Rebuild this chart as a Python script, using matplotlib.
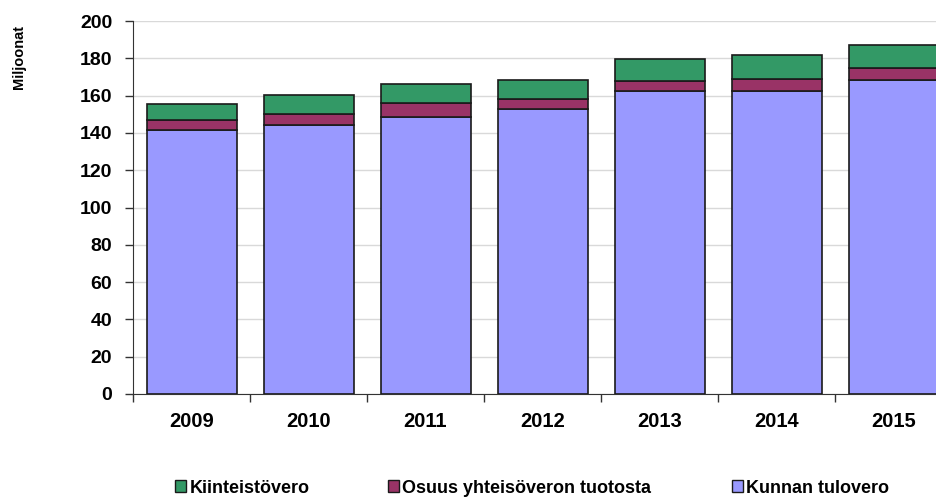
import matplotlib
matplotlib.use("Agg")
import matplotlib.pyplot as plt
from matplotlib.patches import Patch
import numpy as np

years = ["2009", "2010", "2011", "2012", "2013", "2014", "2015"]
kunnan_tulovero = [141.5, 144.5, 148.3, 152.8, 162.3, 162.6, 168.2]
osuus_yhteisovero = [5.5, 5.8, 7.5, 5.2, 5.5, 6.5, 6.8]
kiinteistovero = [8.5, 10.2, 10.2, 10.2, 11.6, 12.7, 12.1]

series_names = ["Kiinteistövero", "Osuus yhteisöveron tuotosta", "Kunnan tulovero"]
c_purple = "#9999FF"
c_maroon = "#993366"
c_green = "#339966"

plt.rcParams['font.family'] = ['Liberation Sans', 'DejaVu Sans']

fig = plt.figure(figsize=(9.36, 4.98), dpi=100)
W, H = 936, 498
ax = fig.add_axes([133 / W, 1 - 394 / H, 819 / W, 373 / H])

x = np.arange(len(years))
bw = 90 / 117
k = np.array(kunnan_tulovero)
o = np.array(osuus_yhteisovero)
g = np.array(kiinteistovero)
ax.bar(x, k, bw, color=c_purple, edgecolor="#1a1a1a", linewidth=1.2, zorder=3)
ax.bar(x, o, bw, bottom=k, color=c_maroon, edgecolor="#1a1a1a", linewidth=1.2, zorder=3)
ax.bar(x, g, bw, bottom=k + o, color=c_green, edgecolor="#1a1a1a", linewidth=1.2, zorder=3)

ax.set_xlim(-0.5, len(years) - 0.5)
ax.set_ylim(0, 200)
ax.set_yticks(np.arange(0, 201, 20))
ax.set_xticks(x)
ax.set_xticklabels(years)
ax.set_xticks(np.arange(-0.5, len(years), 1), minor=True)
ax.tick_params(axis='x', which='major', length=0, pad=13)
ax.tick_params(axis='x', which='minor', length=6, width=1, color="#333333")
ax.tick_params(axis='y', length=6, width=1, color="#333333", pad=9)
for lab in ax.get_xticklabels():
    lab.set_fontsize(14.5)
    lab.set_fontweight('bold')
for lab in ax.get_yticklabels():
    lab.set_fontsize(14)
    lab.set_fontweight('bold')

ax.yaxis.grid(True, color="#d9d9d9", linewidth=1, zorder=0)
ax.set_axisbelow(True)
for s in ['top', 'right']:
    ax.spines[s].set_visible(False)
ax.spines['left'].set_color("#333333")
ax.spines['bottom'].set_color("#333333")

fig.text(19 / W, 1 - 57 / H, "Miljoonat", rotation=90, fontsize=10.5,
         fontweight='bold', ha='center', va='center')

colors = [c_green, c_maroon, c_purple]
xpos = [175, 388, 732]
for name, col, xp in zip(series_names, colors, xpos):
    fig.legend(handles=[Patch(facecolor=col, edgecolor="#1a1a1a", linewidth=1)],
               labels=[name], loc='center left',
               bbox_to_anchor=(xp / W, 1 - 488 / H), frameon=False,
               borderpad=0, borderaxespad=0,
               handlelength=0.62, handleheight=0.62, handletextpad=0.18,
               prop={'size': 13, 'weight': 'bold'})

fig.savefig("out.png", dpi=100)
